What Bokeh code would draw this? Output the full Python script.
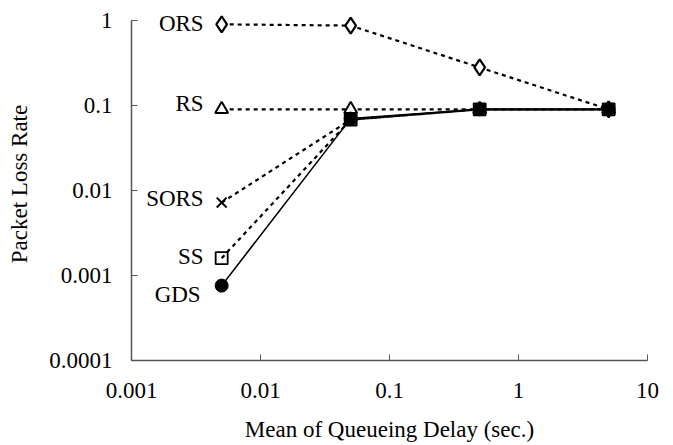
from bokeh.plotting import figure
from bokeh.models import Range1d, FixedTicker, CustomJSTickFormatter, ColumnDataSource, LabelSet
from bokeh.embed import file_html
from bokeh.resources import INLINE

# ---- data ----
delay = [0.005, 0.05, 0.5, 5]
ors = [0.90, 0.87, 0.28, 0.09]
rs = [0.09, 0.09, 0.09, 0.09]
sors = [0.0072, 0.068, 0.09, 0.09]
ss = [0.0016, 0.068, 0.09, 0.09]
gds = [0.00076, 0.07, 0.09, 0.09]
series_names = ["ORS", "RS", "SORS", "SS", "GDS"]
x_ticks = [0.001, 0.01, 0.1, 1, 10]
y_ticks = [0.0001, 0.001, 0.01, 0.1, 1]

FONT = "Liberation Serif"
FS = "23px"

p = figure(width=673, height=445, x_axis_type="log", y_axis_type="log",
           x_range=Range1d(0.001, 10), y_range=Range1d(0.0001, 1.42),
           output_backend="svg", toolbar_location=None,
           min_border_left=131, min_border_right=26, min_border_top=7, min_border_bottom=85)
p.outline_line_color = None
p.xgrid.visible = False
p.ygrid.visible = False
p.background_fill_color = "white"

fmt = CustomJSTickFormatter(code="return tick.toString();")
for ax, ticks in ((p.xaxis[0], x_ticks), (p.yaxis[0], y_ticks)):
    ax.ticker = FixedTicker(ticks=ticks, minor_ticks=[])
    ax.formatter = fmt
    ax.bounds = (ticks[0], ticks[-1])
    ax.major_tick_in = 6
    ax.major_tick_out = 0
    ax.minor_tick_in = 0
    ax.minor_tick_out = 0
    ax.axis_line_color = "#555555"
    ax.axis_line_width = 1.5
    ax.major_tick_line_color = "#555555"
    ax.major_label_text_font = FONT
    ax.major_label_text_font_size = FS
    ax.major_label_text_color = "black"
    ax.axis_label_text_font = FONT
    ax.axis_label_text_font_size = FS
    ax.axis_label_text_font_style = "normal"
    ax.axis_label_text_color = "black"

p.xaxis.axis_label = "Mean of Queueing Delay (sec.)"
p.yaxis.axis_label = "Packet Loss Rate"
p.xaxis.major_label_standoff = 22
p.xaxis.axis_label_standoff = 16
p.yaxis.major_label_standoff = 19
p.yaxis.axis_label_standoff = 14

dot = "4 4"
p.line(delay, ors, line_color="black", line_width=2.2, line_dash=dot)
p.line(delay, rs, line_color="black", line_width=2.2, line_dash=dot)
p.line(delay, sors, line_color="black", line_width=2.2, line_dash=dot)
p.line(delay, ss, line_color="black", line_width=2.2, line_dash=dot)
p.line(delay, gds, line_color="black", line_width=1.6)

p.scatter(delay, ors, marker="diamond", size=16, fill_color="white", line_color="black", line_width=2.2)
p.scatter(delay, rs, marker="triangle", size=13, fill_color="white", line_color="black", line_width=2)
p.scatter(delay, sors, marker="x", size=14, line_color="black", line_width=2)
p.scatter(delay, ss, marker="square", size=12, fill_color=None, line_color="black", line_width=1.8)
p.scatter(delay, gds, marker="circle", size=13, fill_color="black", line_color="black")

first_vals = [ors[0], rs[0], sors[0], ss[0], gds[0]]
label_dy = [1, 6, 4, 2, -9]
label_dx = [-18, -18, -18, -18, -21]
src = ColumnDataSource(dict(x=[delay[0]] * 5, y=first_vals, t=series_names,
                            dx=label_dx, dy=label_dy))
labels = LabelSet(x="x", y="y", text="t", x_offset="dx", y_offset="dy", source=src,
                  text_align="right", text_baseline="middle",
                  text_font=FONT, text_font_size=FS, text_color="black")
p.add_layout(labels)

open("out.html", "w").write(file_html(p, INLINE))
